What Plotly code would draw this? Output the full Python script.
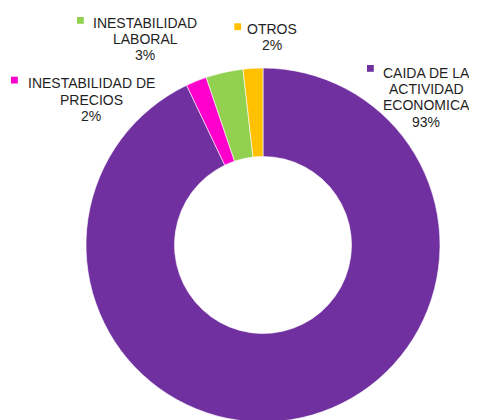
import plotly.graph_objects as go

# ---- data ----
categories = ["CAIDA DE LA ACTIVIDAD ECONOMICA", "INESTABILIDAD DE PRECIOS",
              "INESTABILIDAD LABORAL", "OTROS"]
label_lines = [["CAIDA DE LA", "ACTIVIDAD", "ECONOMICA"],
               ["INESTABILIDAD DE", "PRECIOS"],
               ["INESTABILIDAD", "LABORAL"],
               ["OTROS"]]
values = [92.9, 1.9, 3.4, 1.8]
colors = ["#7030A0", "#FF00CC", "#92D050", "#FFC000"]

# ---- layout constants (pixels, page coordinates; page body has 8px margin) ----
W, H = 477, 420
OFF = 8
# label block: (text centre x, first line centre y, square left x, square top y)
label_pos = [(426, 72.7, 367, 65),
             (91, 83.3, 11, 76.7),
             (145, 22.7, 77, 17),
             (272, 29.0, 234.3, 23.3)]
line_gap = 16.3
sq = 6.8
pie_cx, pie_cy, pie_r = 263 - OFF, 245 - OFF, 177


def px(x):
    return (x - OFF) / W


def py(y):
    return 1 - (y - OFF) / H


fig = go.Figure(go.Pie(
    labels=categories,
    values=values,
    hole=0.5,
    sort=False,
    direction="clockwise",
    rotation=0,
    marker=dict(colors=colors, line=dict(color="white", width=0.6)),
    textinfo="none",
    hoverinfo="label+percent",
    showlegend=False,
    domain=dict(x=[(pie_cx - pie_r) / W, (pie_cx + pie_r) / W],
                y=[(H - pie_cy - pie_r) / H, (H - pie_cy + pie_r) / H]),
))

total = sum(values)
annotations = []
shapes = []
for lines, v, c, (cx, cy, sx, sy) in zip(label_lines, values, colors, label_pos):
    all_lines = lines + [f"{round(100 * v / total)}%"]
    for i, t in enumerate(all_lines):
        y = cy + i * line_gap
        annotations.append(dict(
            text=t, x=px(cx), y=py(y), xref="paper", yref="paper",
            xanchor="center", yanchor="middle", showarrow=False,
            font=dict(family="Liberation Sans, Arial", size=14, color="#1f1f1f"),
        ))
    shapes.append(dict(
        type="rect", xref="paper", yref="paper",
        x0=px(sx), x1=px(sx + sq), y0=py(sy + sq), y1=py(sy),
        fillcolor=c, line=dict(width=0),
    ))

fig.update_layout(
    width=W, height=H,
    margin=dict(l=0, r=0, t=0, b=0),
    paper_bgcolor="white", plot_bgcolor="white",
    annotations=annotations, shapes=shapes,
)

fig.write_html("out.html")
